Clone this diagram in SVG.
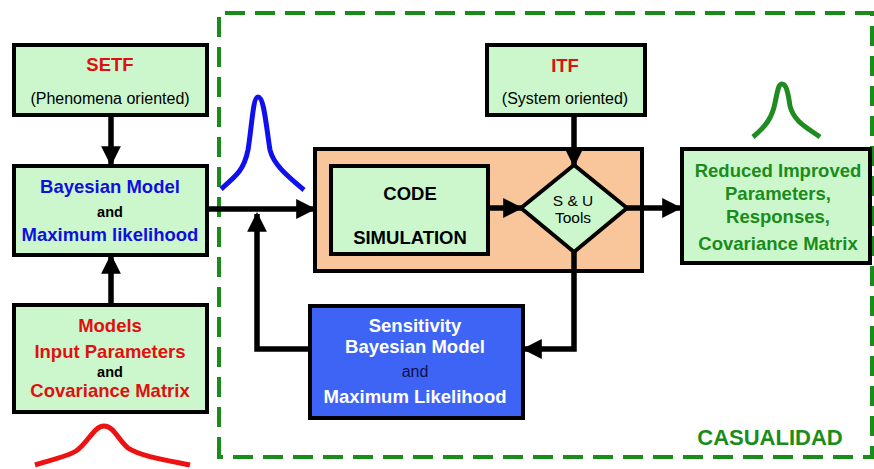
<svg xmlns="http://www.w3.org/2000/svg" width="874" height="469" viewBox="0 0 874 469">
  <defs>
    <marker id="ah" viewBox="0 0 10 10" refX="9" refY="5" markerWidth="3.6" markerHeight="3.6" orient="auto" markerUnits="strokeWidth">
      <path d="M0,0 L10,5 L0,10 z" fill="#000"/>
    </marker>
    <style>
      .box { fill: #ccf7cc; stroke: #000; stroke-width: 4; }
      .edge { fill: none; stroke: #000; stroke-width: 5.5; }
      .t { font-family: "Liberation Sans", Arial, sans-serif; font-weight: bold; text-anchor: middle; font-size: 18.5px; }
      .n { font-weight: normal; font-size: 16px; }
      .s { font-size: 14.5px; }
      .red { fill: #e01010; }
      .blue { fill: #1010dd; }
      .grn { fill: #1a8c1a; }
      .blk { fill: #000; }
      .wht { fill: #fff; }
      .curve { fill: none; stroke-width: 5; }
    </style>
  </defs>

  <rect width="874" height="469" fill="#fff"/>

  <!-- causality region frame -->
  <path d="M219,457 L219,13 L872,13 L872,457 Z" fill="none" stroke="#1a8c1a" stroke-width="4" stroke-dasharray="20,10"/>
  <text class="t grn" x="770" y="445" style="font-size:22px">CASUALIDAD</text>

  <!-- distribution curves -->
  <path class="curve" stroke="#ee1111" d="M35,465 C55,459 68,456 76,451 C88,443 94,426 104,426 C114,426 118,440 128,448 C140,456 165,460 190,465"/>
  <path class="curve" stroke="#1010ee" d="M221,189 C236,176 244,170 248,150 C252,125 253,97 258,97 C264,97 266,125 270,150 C274,166 290,178 304,190"/>
  <path class="curve" stroke="#1e8c1e" d="M753,137 C766,126 772,118 775,103 C778,88 779,84 782,84 C786,84 788,92 790,106 C794,122 808,128 820,137"/>

  <!-- SETF -->
  <g id="setf">
    <rect class="box" x="14" y="45" width="193" height="70"/>
    <text class="t red" x="110" y="71">SETF</text>
    <text class="t n blk" x="110" y="104">(Phenomena oriented)</text>
  </g>

  <!-- Bayesian model -->
  <g id="bayesian">
    <rect class="box" x="14" y="166" width="193" height="89"/>
    <text class="t blue" x="110" y="193">Bayesian Model</text>
    <text class="t s blk" x="110" y="217">and</text>
    <text class="t blue" x="110" y="241">Maximum likelihood</text>
  </g>

  <!-- Models / input parameters -->
  <g id="models">
    <rect class="box" x="14" y="305" width="193" height="107"/>
    <text class="t red" x="110" y="332">Models</text>
    <text class="t red" x="110" y="358">Input Parameters</text>
    <text class="t s blk" x="110" y="377">and</text>
    <text class="t red" x="110" y="397">Covariance Matrix</text>
  </g>

  <!-- ITF -->
  <g id="itf">
    <rect class="box" x="487" y="45" width="158" height="70"/>
    <text class="t red" x="565" y="72">ITF</text>
    <text class="t n blk" x="565" y="104">(System oriented)</text>
  </g>

  <!-- Code simulation block -->
  <g id="simulation">
    <rect x="315" y="149" width="327" height="122" fill="#f9c69c" stroke="#000" stroke-width="4"/>
    <rect class="box" x="331" y="166" width="157" height="88"/>
    <text class="t blk" x="410" y="200">CODE</text>
    <text class="t blk" x="410" y="244">SIMULATION</text>
  </g>

  <!-- S&U tools decision -->
  <g id="su-tools">
    <polygon class="box" points="574,165 627,208 574,252 521,208"/>
    <text class="t n blk" x="573" y="206" style="font-size:15.5px">S &amp; U</text>
    <text class="t n blk" x="573" y="223" style="font-size:15.5px">Tools</text>
  </g>

  <!-- Reduced improved results -->
  <g id="reduced">
    <rect class="box" x="682" y="149" width="188" height="114"/>
    <text class="t grn" x="778" y="177">Reduced Improved</text>
    <text class="t grn" x="778" y="200">Parameters,</text>
    <text class="t grn" x="778" y="223">Responses,</text>
    <text class="t grn" x="778" y="250">Covariance Matrix</text>
  </g>

  <!-- Sensitivity -->
  <g id="sensitivity">
    <rect x="310" y="306" width="213" height="112" fill="#3d64f5" stroke="#000" stroke-width="4"/>
    <text class="t wht" x="415" y="332">Sensitivity</text>
    <text class="t wht" x="415" y="353">Bayesian Model</text>
    <text class="t n" x="415" y="377" style="fill:#10104a">and</text>
    <text class="t wht" x="415" y="403">Maximum Likelihood</text>
  </g>

  <!-- connectors -->
  <g id="connectors">
    <line class="edge" x1="111" y1="116" x2="111" y2="164" marker-end="url(#ah)"/>
    <line class="edge" x1="111" y1="304" x2="111" y2="256" marker-end="url(#ah)"/>
    <line class="edge" x1="207" y1="209" x2="314" y2="209" marker-end="url(#ah)"/>
    <polyline class="edge" points="308,349 257,349 257,214" marker-end="url(#ah)"/>
    <line class="edge" x1="488" y1="208" x2="521" y2="208" marker-end="url(#ah)"/>
    <line class="edge" x1="574" y1="116" x2="574" y2="165" marker-end="url(#ah)"/>
    <line class="edge" x1="627" y1="208" x2="680" y2="208" marker-end="url(#ah)"/>
    <polyline class="edge" points="574,252 574,349 524,349" marker-end="url(#ah)"/>
  </g>
</svg>
